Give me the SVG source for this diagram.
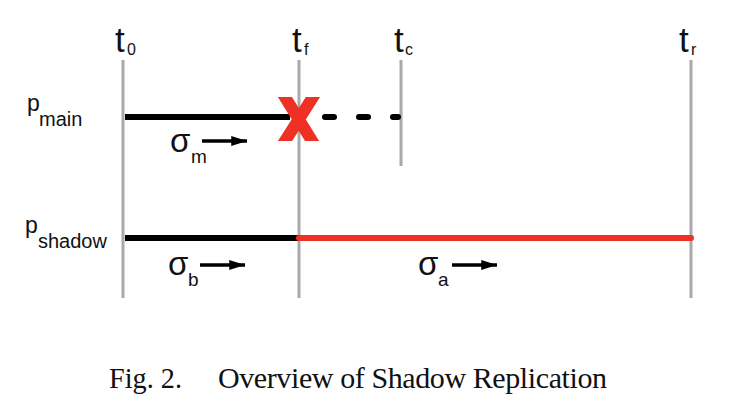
<svg xmlns="http://www.w3.org/2000/svg" width="730" height="411" viewBox="0 0 730 411">
<style>
.axis{stroke:#a9a9a9;stroke-width:3;fill:none}
.lbl{font-family:"Liberation Sans",Arial,sans-serif;fill:#111}
.big{font-size:35px}
.sub{font-size:16px}
.p{font-size:23px}
.psub{font-size:20px}
.sig{font-size:33px}
.ssub{font-size:19px}
.arr{stroke:#000;stroke-width:3.5;fill:none}
.cap{font-family:"Liberation Serif","Times New Roman",serif;font-size:30px;fill:#111}
</style>
<defs>
<marker id="ah" markerWidth="4.5" markerHeight="2.8" refX="4.5" refY="1.4" orient="auto" markerUnits="strokeWidth"><path d="M0,0 L4.5,1.4 L0,2.8 z" fill="#000"/></marker>
<clipPath id="xclip"><rect x="270" y="97" width="60" height="44"/></clipPath>
</defs>
<rect width="730" height="411" fill="#fff"/>
<g id="t0"><line class="axis" x1="123" y1="60" x2="123" y2="298"/><text class="lbl big" x="115" y="52">t</text><text class="lbl sub" x="127" y="55">0</text></g>
<g id="tf"><line class="axis" x1="299" y1="60" x2="299" y2="298"/><text class="lbl big" x="292" y="52">t</text><text class="lbl sub" x="304" y="55">f</text></g>
<g id="tc"><line class="axis" x1="401" y1="60" x2="401" y2="166"/><text class="lbl big" x="394" y="52">t</text><text class="lbl sub" x="405" y="55">c</text></g>
<g id="tr"><line class="axis" x1="691" y1="60" x2="691" y2="298"/><text class="lbl big" x="679" y="52">t</text><text class="lbl sub" x="691" y="55">r</text></g>
<g id="pmain"><text class="lbl p" x="27" y="111">p</text><text class="lbl psub" x="39" y="126">main</text></g>
<g id="pshadow"><text class="lbl p" x="25" y="233">p</text><text class="lbl psub" x="38" y="248">shadow</text></g>
<g id="connectors">
<line x1="125" y1="117" x2="290" y2="117" stroke="#000" stroke-width="6"/>
<line x1="325" y1="117" x2="398" y2="117" stroke="#000" stroke-width="6" stroke-dasharray="9,25" stroke-linecap="round"/>
<line x1="125" y1="238" x2="299" y2="238" stroke="#000" stroke-width="6"/>
<line x1="299" y1="238" x2="691" y2="238" stroke="#ee3124" stroke-width="6" stroke-linecap="round"/>
</g>
<g id="fail">
<path d="M280.6,90 L316.4,148 M317.4,90 L280.6,148" stroke="#ee3124" stroke-width="12" fill="none" clip-path="url(#xclip)"/>
</g>
<g id="sigma_m"><text class="lbl sig" x="170" y="152">σ</text><text class="lbl ssub" x="191" y="163">m</text><line class="arr" x1="202" y1="141" x2="247" y2="141" marker-end="url(#ah)"/></g>
<g id="sigma_b"><text class="lbl sig" x="168" y="275">σ</text><text class="lbl ssub" x="188" y="286">b</text><line class="arr" x1="200" y1="265" x2="245" y2="265" marker-end="url(#ah)"/></g>
<g id="sigma_a"><text class="lbl sig" x="418" y="275">σ</text><text class="lbl ssub" x="438" y="286">a</text><line class="arr" x1="452" y1="265" x2="497" y2="265" marker-end="url(#ah)"/></g>
<text class="cap" x="109" y="388" textLength="73" lengthAdjust="spacingAndGlyphs">Fig. 2.</text>
<text class="cap" x="218" y="388" textLength="389" lengthAdjust="spacing">Overview of Shadow Replication</text>
</svg>
